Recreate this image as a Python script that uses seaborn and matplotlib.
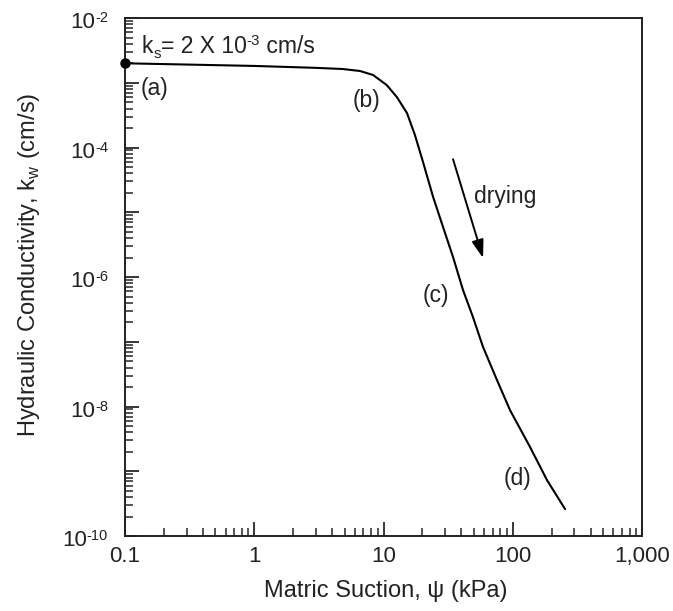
import numpy as np
import pandas as pd
import matplotlib
matplotlib.use("Agg")
import matplotlib.pyplot as plt
import matplotlib.transforms as mtransforms
import seaborn as sns
from matplotlib.ticker import LogLocator, FixedLocator, NullFormatter

# Hydraulic conductivity function (drying branch)
suction_kpa = [0.1, 1.0, 3.0, 4.86, 6.58, 8.30, 10.6, 12.7, 15.2, 17.5, 20.2,
               24.2, 28.9, 34.5, 41.2, 49.2, 58.9, 75.5, 95.2, 136.0, 184.0, 254.0]
conductivity = [2.0e-3, 1.82e-3, 1.7e-3, 1.63e-3, 1.52e-3, 1.32e-3, 9.2e-4,
                6.0e-4, 3.4e-4, 1.56e-4, 6.0e-5, 1.72e-5, 5.9e-6, 2.04e-6,
                6.3e-7, 2.41e-7, 8.3e-8, 2.56e-8, 8.8e-9, 2.37e-9, 7.3e-10,
                2.6e-10]

x_ticks = [0.1, 1, 10, 100, 1000]
x_tick_labels = ["0.1", "1", "10", "100", "1,000"]
y_ticks = [1e-10, 1e-8, 1e-6, 1e-4, 1e-2]
y_exponents = ["-10", "-8", "-6", "-4", "-2"]

ks_value = 2.0e-3

sns.set_style("ticks")
plt.rcParams["font.family"] = ["Liberation Sans", "DejaVu Sans"]
plt.rcParams["axes.unicode_minus"] = False

INK = "#222222"
FS_TICK = 16
FS_LABEL = 17
FS_NOTE = 16.5

df = pd.DataFrame({"suction": suction_kpa, "k": conductivity})

fig = plt.figure(figsize=(6.73, 6.11), dpi=100)
ax = fig.add_axes([0.1857, 0.1227, 0.954 - 0.1857, 0.9705 - 0.1227])

sns.lineplot(data=df, x="suction", y="k", ax=ax, color="black", linewidth=1.5)
ax.plot([suction_kpa[0]], [ks_value], "o", color="black", markersize=6.5,
        clip_on=False, zorder=5)

ax.set_xscale("log")
ax.set_yscale("log")
ax.set_xlim(0.1, 1000)
ax.set_ylim(1e-10, 1e-2)

ax.xaxis.set_major_locator(FixedLocator(x_ticks))
ax.set_xticklabels(x_tick_labels)
ax.xaxis.set_minor_locator(LogLocator(base=10, subs=np.arange(2, 10)))
ax.xaxis.set_minor_formatter(NullFormatter())

ax.yaxis.set_major_locator(LogLocator(base=10, numticks=20))
ax.yaxis.set_minor_locator(LogLocator(base=10, subs=np.arange(2, 10), numticks=20))
ax.yaxis.set_minor_formatter(NullFormatter())
ax.yaxis.set_major_formatter(NullFormatter())

ax.tick_params(axis="both", which="major", direction="in", length=10, width=1.3,
               labelsize=FS_TICK, labelcolor=INK)
ax.tick_params(axis="both", which="minor", direction="in", length=6, width=1.1)
ax.tick_params(axis="x", which="major", pad=7)
ax.tick_params(top=False, right=False, which="both")


def power_label(x, y, exponent, transform, dx, dy):
    """Write '10' with a raised exponent, right-aligned at (x, y) + offset."""
    exp_tr = mtransforms.offset_copy(transform, fig=fig, x=dx, y=dy + 6,
                                     units="dots")
    t_exp = ax.text(x, y, exponent, transform=exp_tr, ha="right",
                    va="baseline", fontsize=FS_TICK * 0.66, color=INK)
    fig.canvas.draw()
    w = t_exp.get_window_extent().width
    base_tr = mtransforms.offset_copy(transform, fig=fig, x=dx - w, y=dy,
                                      units="dots")
    ax.text(x, y, "10", transform=base_tr, ha="right", va="baseline",
            fontsize=FS_TICK, color=INK)


for yv, ex in zip(y_ticks, y_exponents):
    power_label(0, yv, ex, ax.get_yaxis_transform(), dx=-17, dy=-10)

for sp in ax.spines.values():
    sp.set_linewidth(1.4)
    sp.set_color(INK)

ax.set_xlabel("Matric Suction, ψ (kPa)", fontsize=FS_LABEL, color=INK)
ax.set_ylabel(r"Hydraulic Conductivity, k$_{\mathregular{w}}$ (cm/s)",
              fontsize=FS_LABEL, color=INK)
ax.xaxis.set_label_coords(0.505, -0.085)
ax.yaxis.set_label_coords(-0.16, 0.523)

# saturated conductivity note: k_s= 2 X 10^-3 cm/s
note_xy = (0.135, 2.9e-3)
pieces = [("k", 1.0, 0), ("s", 0.66, -4), ("= 2 X 10", 1.0, 0),
          ("-3", 0.66, 6), (" cm/s", 1.0, 0)]
offset_px = 0.0
for txt, scale, rise in pieces:
    t = ax.annotate(txt, xy=note_xy, xycoords="data",
                    xytext=(offset_px * 72 / fig.dpi, rise),
                    textcoords="offset points", fontsize=FS_NOTE * scale,
                    ha="left", va="baseline", color=INK)
    fig.canvas.draw()
    offset_px += t.get_window_extent().width

ax.text(0.133, 8.3e-4, "(a)", fontsize=FS_NOTE, ha="left", va="center", color=INK)
ax.text(5.8, 5.4e-4, "(b)", fontsize=FS_NOTE, ha="left", va="center", color=INK)
ax.text(20.2, 5.2e-7, "(c)", fontsize=FS_NOTE, ha="left", va="center", color=INK)
ax.text(85.5, 7.6e-10, "(d)", fontsize=FS_NOTE, ha="left", va="center", color=INK)
ax.text(50, 1.75e-5, "drying", fontsize=FS_NOTE, ha="left", va="center", color=INK)

ax.annotate("", xy=(58.9, 1.96e-6), xytext=(34.5, 6.6e-5),
            arrowprops=dict(arrowstyle="-|>,head_length=1.1,head_width=0.36",
                            color="black", lw=1.4, shrinkA=0, shrinkB=0))

fig.savefig("out.png", dpi=100)
